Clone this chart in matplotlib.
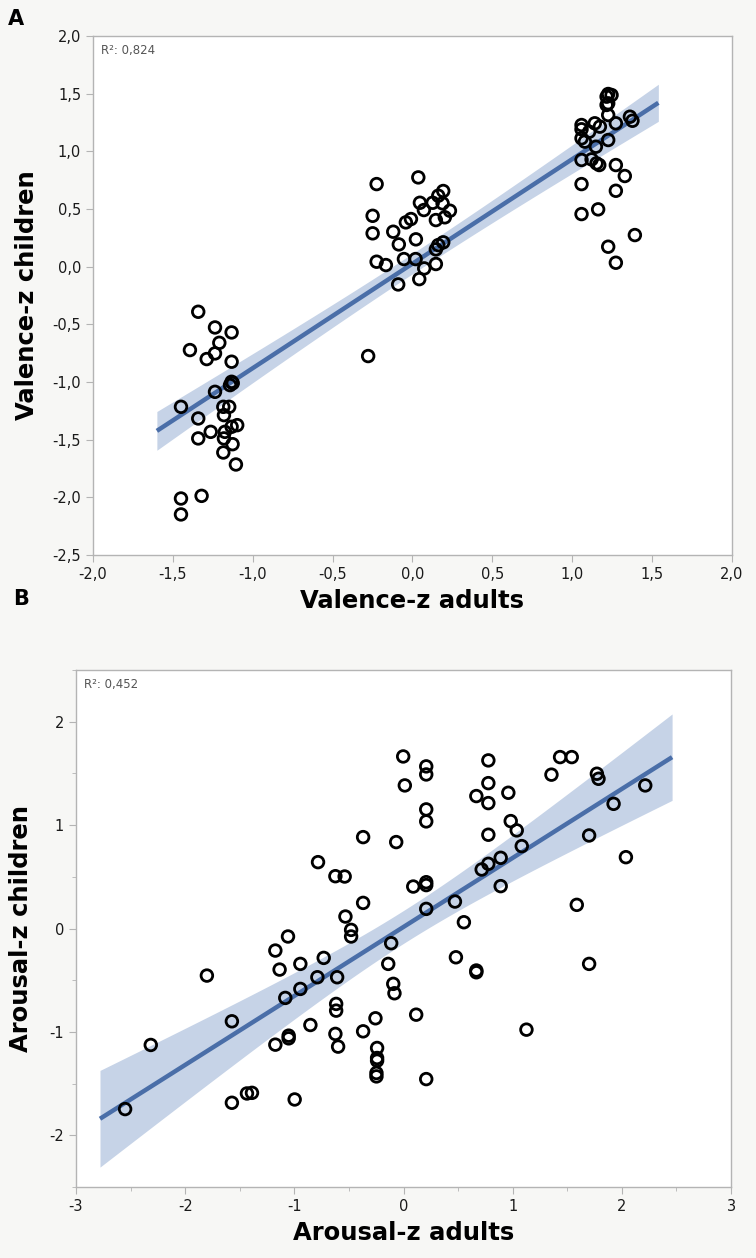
import matplotlib
matplotlib.use("Agg")
import matplotlib.pyplot as plt
import numpy as np
from matplotlib.ticker import FuncFormatter, MultipleLocator

plt.rcParams["axes.unicode_minus"] = False

# panel A: valence
val_adults = [-1.341, -1.236, -1.132, -1.209, -1.393, -1.236, -1.288, -1.132, -1.132, -1.142,
              -1.125, -1.236, -1.449, -1.184, -1.147, -1.341, -1.180, -1.097, -1.132, -1.263,
              -1.174, -1.341, -1.180, -1.126, -1.184, -1.105, -1.320, -1.449, -1.449,
              0.037, -0.224, 0.193, 0.162, 0.047, 0.127, 0.189, 0.072, 0.235, -0.249,
              -0.009, -0.041, 0.203, 0.147, -0.249, -0.120, 0.022, -0.085, 0.193, 0.162,
              0.147, -0.224, -0.166, -0.053, 0.020, 0.074, 0.147, -0.089, 0.043, -0.277,
              1.226, 1.247, 1.216, 1.226, 1.216, 1.226, 1.362, 1.378, 1.274, 1.142,
              1.059, 1.174, 1.107, 1.059, 1.059, 1.080, 1.226, 1.149, 1.059, 1.122,
              1.170, 1.153, 1.274, 1.330, 1.059, 1.274, 1.059, 1.163, 1.393, 1.226, 1.274]
val_children = [-0.391, -0.527, -0.570, -0.660, -0.723, -0.752, -0.801, -0.824, -0.998, -1.027,
                -1.010, -1.085, -1.215, -1.215, -1.215, -1.316, -1.287, -1.374, -1.388, -1.432,
                -1.432, -1.489, -1.489, -1.539, -1.611, -1.715, -1.987, -2.010, -2.148,
                0.774, 0.716, 0.656, 0.615, 0.554, 0.554, 0.549, 0.491, 0.485, 0.441,
                0.413, 0.384, 0.428, 0.404, 0.289, 0.303, 0.237, 0.193, 0.211, 0.187,
                0.150, 0.043, 0.014, 0.066, 0.066, -0.015, 0.023, -0.154, -0.108, -0.775,
                1.497, 1.488, 1.474, 1.416, 1.402, 1.315, 1.300, 1.265, 1.243, 1.243,
                1.228, 1.214, 1.170, 1.191, 1.113, 1.084, 1.098, 1.040, 0.925, 0.930,
                0.881, 0.896, 0.881, 0.786, 0.716, 0.658, 0.456, 0.497, 0.274, 0.173, 0.034]

# panel B: arousal
aro_adults = [-2.550, -2.315, -1.801, -1.572, -1.572, -1.434, -1.388, -1.174, -1.135, -1.174,
              -1.083, -1.058, -1.052, -1.052, -0.997, -0.945, -0.945, -0.853, -0.789, -0.783,
              -0.731, -0.624, -0.608, -0.617, -0.617, -0.624, -0.599, -0.539, -0.532, -0.480,
              -0.480, -0.370, -0.370, -0.370, -0.257, -0.242, -0.242, -0.242, -0.248, -0.248,
              -0.140, -0.113, -0.094, -0.083, -0.067, -0.003, 0.012, 0.089, 0.116, 0.208,
              0.208, 0.208, 0.208, 0.208, 0.208, 0.208, 0.208, 0.471, 0.480, 0.553,
              0.667, 0.667, 0.667, 0.716, 0.777, 0.777, 0.777, 0.777, 0.777, 0.890,
              0.890, 0.960, 0.982, 1.037, 1.083, 1.126, 1.355, 1.434, 1.541, 1.587,
              1.700, 1.700, 1.771, 1.786, 1.924, 2.037, 2.214]
aro_children = [-1.746, -1.126, -0.455, -0.897, -1.685, -1.595, -1.589, -0.213, -0.397, -1.123,
                -0.671, -0.077, -1.036, -1.062, -1.653, -0.342, -0.584, -0.933, -0.471, 0.642,
                -0.284, 0.506, -0.471, -0.729, -0.794, -1.019, -1.142, 0.503, 0.116, -0.013,
                -0.077, 0.884, 0.248, -0.994, -0.868, -1.155, -1.252, -1.278, -1.397, -1.430,
                -0.342, -0.142, -0.535, -0.626, 0.836, 1.664, 1.384, 0.406, -0.833, 1.568,
                1.490, 1.152, 1.036, 0.448, 0.420, 0.190, -1.456, 0.261, -0.278, 0.061,
                1.281, -0.406, -0.423, 0.571, 1.626, 1.406, 1.213, 0.907, 0.626, 0.684,
                0.410, 1.313, 1.039, 0.949, 0.797, -0.978, 1.488, 1.658, 1.658, 0.229,
                0.900, -0.342, 1.497, 1.448, 1.206, 0.690, 1.384]

val_ticks = [-2.5, -2.0, -1.5, -1.0, -0.5, 0.0, 0.5, 1.0, 1.5, 2.0]
aro_ticks = [-3, -2, -1, 0, 1, 2, 3]
r2_labels = ["R²: 0,824", "R²: 0,452"]

bg = "#f7f7f5"
line_col = "#4a6ea8"
band_col = "#c6d3e7"
spine_col = "#b4b4b4"
lab_kw = dict(family="DejaVu Sans", fontweight="bold", fontsize=17.5)

fig = plt.figure(figsize=(7.56, 12.58), dpi=100, facecolor=bg)
axA = fig.add_axes([0.123, 0.5588, 0.845, 0.4126])
axB = fig.add_axes([0.1005, 0.0564, 0.8665, 0.411])


def fit_band(ax, x, y, x0, x1):
    x = np.asarray(x)
    y = np.asarray(y)
    b, a = np.polyfit(x, y, 1)
    n = len(x)
    resid = y - (a + b * x)
    s = np.sqrt(np.sum(resid ** 2) / (n - 2))
    sxx = np.sum((x - x.mean()) ** 2)
    xs = np.linspace(x0, x1, 100)
    ys = a + b * xs
    half = 1.99 * s * np.sqrt(1.0 / n + (xs - x.mean()) ** 2 / sxx)
    ax.fill_between(xs, ys - half, ys + half, color=band_col, lw=0, zorder=1)
    ax.plot(xs, ys, color=line_col, lw=3.2, zorder=2, solid_capstyle="butt")


def style(ax):
    ax.set_facecolor("white")
    for sp in ax.spines.values():
        sp.set_color(spine_col)
        sp.set_linewidth(1.0)
    ax.tick_params(which="both", direction="out", color=spine_col, labelcolor="#1a1a1a",
                   labelsize=10.5)
    ax.tick_params(which="major", length=5)
    ax.tick_params(which="minor", length=3)


comma = FuncFormatter(lambda v, p: f"{v:.1f}".replace(".", ","))

# panel A
fit_band(axA, val_adults, val_children, -1.6, 1.54)
axA.scatter(val_adults, val_children, s=70, facecolors="none", edgecolors="black",
            linewidths=2.0, zorder=3)
axA.set_xlim(-2.0, 2.0)
axA.set_ylim(-2.5, 2.0)
axA.set_xticks(val_ticks[1:])
axA.set_yticks(val_ticks)
axA.xaxis.set_major_formatter(comma)
axA.yaxis.set_major_formatter(comma)
style(axA)
axA.text(0.012, 0.985, r2_labels[0], transform=axA.transAxes, ha="left", va="top",
         fontsize=8.5, color="#555555")
axA.set_xlabel("Valence-z adults", labelpad=5, **lab_kw)
axA.set_ylabel("Valence-z children", labelpad=10, **lab_kw)
fig.text(0.011, 0.993, "A", fontsize=15, fontweight="bold", ha="left", va="top")

# panel B
fit_band(axB, aro_adults, aro_children, -2.78, 2.46)
axB.scatter(aro_adults, aro_children, s=70, facecolors="none", edgecolors="black",
            linewidths=2.0, zorder=3)
axB.set_xlim(-3, 3)
axB.set_ylim(-2.5, 2.5)
axB.set_xticks(aro_ticks)
axB.set_yticks(aro_ticks[1:-1])
axB.xaxis.set_minor_locator(MultipleLocator(0.5))
axB.yaxis.set_minor_locator(MultipleLocator(0.5))
style(axB)
axB.text(0.012, 0.985, r2_labels[1], transform=axB.transAxes, ha="left", va="top",
         fontsize=8.5, color="#555555")
axB.set_xlabel("Arousal-z adults", labelpad=5, **lab_kw)
axB.set_ylabel("Arousal-z children", labelpad=12, **lab_kw)
fig.text(0.018, 0.532, "B", fontsize=15, fontweight="bold", ha="left", va="top")

fig.savefig("out.png", dpi=100, facecolor=bg)
